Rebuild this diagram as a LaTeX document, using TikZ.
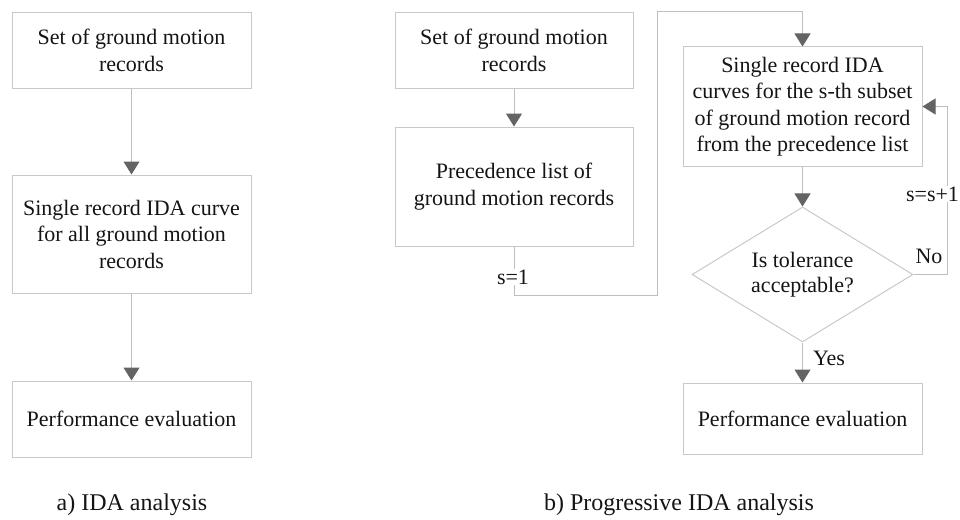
\documentclass[tikz,border=0pt]{standalone}
\usepackage{fontspec}
\setmainfont{Liberation Serif}
\usetikzlibrary{arrows.meta,shapes.geometric}
\definecolor{boxgray}{RGB}{200,200,200}
\definecolor{linegray}{RGB}{190,190,190}
\definecolor{tipgray}{RGB}{100,100,100}
\definecolor{txt}{RGB}{20,20,20}
\tikzset{
  box/.style={draw=boxgray,line width=1pt,minimum width=239pt,align=center,inner sep=0pt,text=txt,
    font=\fontsize{22}{26.5}\selectfont},
  dec/.style={draw=boxgray,line width=1pt,shape=diamond,aspect=1.64,minimum width=221pt,minimum height=135pt,
    inner sep=0pt,align=center,text=txt,font=\fontsize{22}{25}\selectfont},
  conn/.style={draw=linegray,line width=1pt,-{Triangle[width=16pt,length=13pt,color=tipgray]}},
  lab/.style={text=txt,font=\fontsize{22}{26}\selectfont,inner sep=1pt},
  captxt/.style={text=txt,font=\fontsize{24}{28}\selectfont}
}
\begin{document}
\begin{tikzpicture}[x=1pt,y=-1pt]
\useasboundingbox (0,0) rectangle (960,519);
% left column
\node[box,minimum height=75pt] (a1) at (131.5,50.5) {Set of ground motion\\records};
\node[box,minimum height=118pt] (a2) at (131.5,234) {Single record IDA curve\\for all ground motion\\records};
\node[box,minimum height=76pt] (a3) at (131.5,419) {Performance evaluation};
\draw[conn] (a1) -- (a2);
\draw[conn] (a2) -- (a3);
\node[captxt] (capa) at (132,505) {a) IDA analysis};
% middle column
\node[box,minimum width=238pt,minimum height=75pt] (b1) at (514,50.5) {Set of ground motion\\records};
\node[box,minimum width=238pt,minimum height=119pt] (b2) at (514,186.5) {Precedence list of\\ground motion records};
\draw[conn] (b1) -- (b2);
% right column
\node[box,minimum height=119pt] (c1) at (802.5,106.5) {Single record IDA\\curves for the s-th subset\\of ground motion record\\from the precedence list};
\node[dec] (d) at (802.5,274.5) {Is tolerance\\acceptable?};
\node[box,minimum height=71pt] (c2) at (802.5,418.5) {Performance evaluation};
\draw[conn] (c1) -- (d);
\draw[conn] (d) -- (c2);
\node[lab] (yes) at (829,358) {Yes};
% loop s=1
\coordinate (p1) at (657,295);
\coordinate (p2) at (657,12);
\draw[conn] (b2.south) |- (p1) -- (p2) -| (c1.north);
\node[lab,fill=white] (s1) at (513,277) {s=1};
% loop s=s+1
\coordinate (q1) at (947,106.5);
\draw[conn] (d.east) -| (q1) -- (c1.east);
\node[lab,fill=white,inner sep=0.5pt] (ss) at (932.5,194) {s=s+1};
\node[lab] (no) at (929,256) {No};
\node[captxt] (capb) at (679,505) {b) Progressive IDA analysis};
\end{tikzpicture}
\end{document}
